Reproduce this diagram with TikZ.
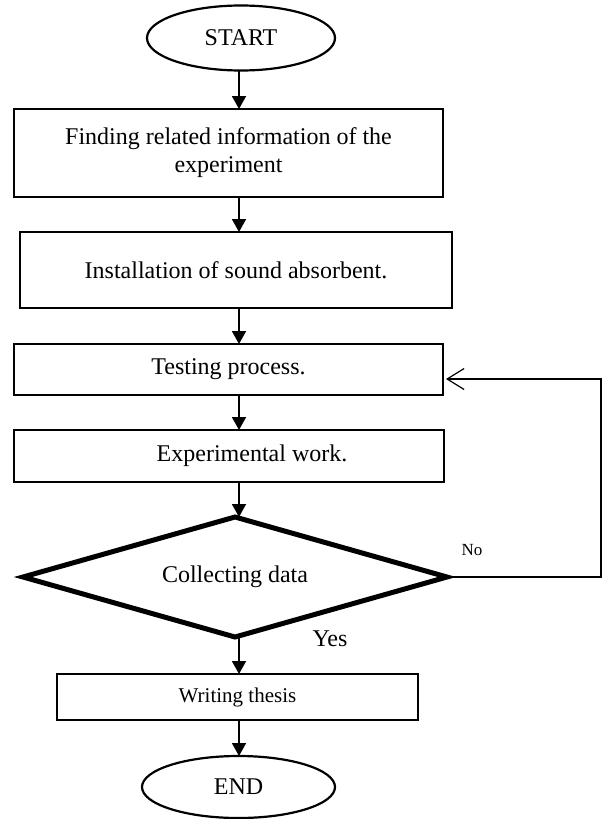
\documentclass[tikz,border=0pt]{standalone}
\usepackage{fontspec}
\setmainfont{Liberation Serif}
\usetikzlibrary{shapes.geometric,arrows.meta,calc}
\begin{document}
\begin{tikzpicture}[x=.5pt, y=-.5pt, >={Triangle[length=6.5pt,width=7pt]},
        every node/.style={font=\fontsize{12}{14}\selectfont, inner sep=0pt, outer sep=0pt},
        stepbox/.style={draw, line width=1.1pt, rectangle, align=center},
        term/.style={draw, line width=1.1pt, ellipse},
        decide/.style={draw, line width=2.5pt, diamond, shape aspect=3.5},
        flow/.style={->, line width=.9pt},
        back/.style={-{Straight Barb[length=8.5pt,width=10.5pt]}, line width=.6pt}]
        \useasboundingbox (0,0) rectangle (605,819);
        \coordinate (axis) at (239,0);
        \coordinate (loop) at (601,0);
        \node[term, minimum width=94pt, minimum height=32.5pt] (start) at (241,38) {START};
        \node[stepbox, minimum width=214.5pt, minimum height=44pt] (find) at (228.5,153) {Finding related information of the\\experiment};
        \node[stepbox, minimum width=216pt, minimum height=38pt] (install) at (236,270) {Installation of sound absorbent.};
        \node[stepbox, minimum width=214.5pt, minimum height=25.5pt] (test) at (228.5,369.5) {Testing process.};
        \node[stepbox, minimum width=215pt, minimum height=26pt] (work) at (229,456) {\hspace{23pt}Experimental work.};
        \node[decide, minimum width=212pt, minimum height=60pt] (chk) at (235,577) {Collecting data};
        \node[stepbox, minimum width=180.5pt, minimum height=23pt, font=\fontsize{10.5}{12}\selectfont] (thesis) at (237.5,697) {Writing thesis};
        \node[term, minimum width=96.5pt, minimum height=31pt] (end) at (238.5,787) {END};
        \node[font=\fontsize{8.5}{10}\selectfont] (no) at (472,550) {No};
        \node (yes) at (330,639) {Yes};
        \draw[flow] (start.south -| axis) -- (find.north -| axis);
        \draw[flow] (find.south -| axis) -- (install.north -| axis);
        \draw[flow] (install.south -| axis) -- (test.north -| axis);
        \draw[flow] (test.south -| axis) -- (work.north -| axis);
        \draw[flow] (work.south -| axis) -- (chk.north -| axis);
        \draw[flow] (chk.south -| axis) -- (thesis.north -| axis);
        \draw[flow] (thesis.south -| axis) -- (end.north -| axis);
        \draw[back] (chk.east) -- (chk.east -| loop) |- ($(test.east)+(3,9.5)$);
\end{tikzpicture}
\end{document}
